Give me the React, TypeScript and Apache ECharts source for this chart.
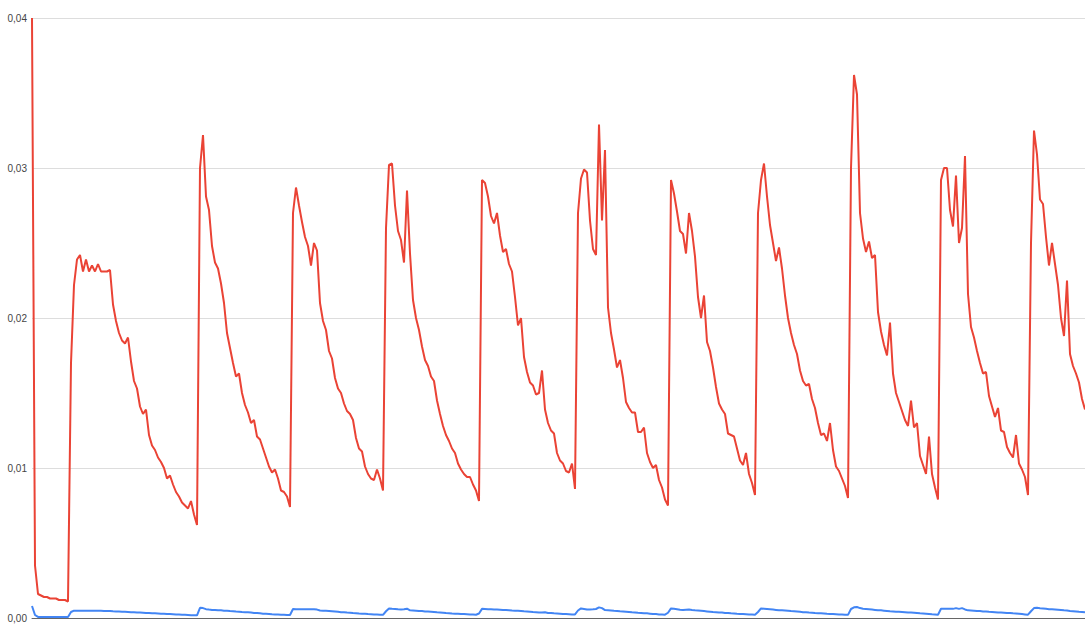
import React, { useEffect, useRef } from "react";
import * as echarts from "echarts";

// Series values, one sample every step of the horizontal axis
const seriesNames = ["Series A", "Series B"];

const blueValues = [
  0.00080, 0.00020, 0.00007, 0.00007, 0.00007, 0.00007, 0.00007, 0.00007, 0.00007, 0.00007,
  0.00007, 0.00007, 0.00007, 0.00040, 0.00049, 0.00049, 0.00049, 0.00049, 0.00048, 0.00048,
  0.00048, 0.00048, 0.00048, 0.00048, 0.00047, 0.00047, 0.00047, 0.00045, 0.00044, 0.00043,
  0.00042, 0.00041, 0.00040, 0.00039, 0.00038, 0.00037, 0.00036, 0.00035, 0.00034, 0.00033,
  0.00032, 0.00031, 0.00030, 0.00029, 0.00028, 0.00027, 0.00026, 0.00025, 0.00024, 0.00023,
  0.00022, 0.00021, 0.00020, 0.00019, 0.00018, 0.00018, 0.00068, 0.00066, 0.00059, 0.00056,
  0.00054, 0.00053, 0.00052, 0.00051, 0.00049, 0.00048, 0.00046, 0.00045, 0.00043, 0.00042,
  0.00040, 0.00039, 0.00038, 0.00036, 0.00034, 0.00033, 0.00031, 0.00029, 0.00028, 0.00027,
  0.00025, 0.00024, 0.00023, 0.00022, 0.00021, 0.00020, 0.00020, 0.00060, 0.00059, 0.00059,
  0.00058, 0.00058, 0.00058, 0.00058, 0.00059, 0.00056, 0.00050, 0.00049, 0.00048, 0.00047,
  0.00045, 0.00043, 0.00041, 0.00039, 0.00038, 0.00036, 0.00035, 0.00033, 0.00032, 0.00030,
  0.00029, 0.00028, 0.00026, 0.00025, 0.00024, 0.00023, 0.00022, 0.00021, 0.00045, 0.00064,
  0.00061, 0.00060, 0.00058, 0.00057, 0.00058, 0.00062, 0.00051, 0.00050, 0.00049, 0.00047,
  0.00046, 0.00044, 0.00043, 0.00042, 0.00040, 0.00038, 0.00037, 0.00035, 0.00033, 0.00032,
  0.00030, 0.00029, 0.00028, 0.00027, 0.00026, 0.00025, 0.00024, 0.00023, 0.00022, 0.00030,
  0.00061, 0.00060, 0.00059, 0.00058, 0.00057, 0.00056, 0.00055, 0.00054, 0.00053, 0.00052,
  0.00050, 0.00049, 0.00048, 0.00047, 0.00045, 0.00044, 0.00042, 0.00040, 0.00039, 0.00037,
  0.00036, 0.00038, 0.00034, 0.00033, 0.00031, 0.00030, 0.00029, 0.00027, 0.00026, 0.00025,
  0.00024, 0.00024, 0.00050, 0.00064, 0.00060, 0.00056, 0.00057, 0.00058, 0.00060, 0.00071,
  0.00066, 0.00053, 0.00052, 0.00050, 0.00048, 0.00047, 0.00045, 0.00044, 0.00042, 0.00040,
  0.00038, 0.00037, 0.00035, 0.00034, 0.00032, 0.00031, 0.00029, 0.00027, 0.00026, 0.00024,
  0.00023, 0.00022, 0.00035, 0.00064, 0.00061, 0.00058, 0.00055, 0.00054, 0.00055, 0.00056,
  0.00053, 0.00051, 0.00050, 0.00048, 0.00046, 0.00044, 0.00042, 0.00040, 0.00039, 0.00037,
  0.00036, 0.00034, 0.00033, 0.00031, 0.00030, 0.00028, 0.00027, 0.00026, 0.00025, 0.00024,
  0.00023, 0.00022, 0.00040, 0.00064, 0.00062, 0.00060, 0.00058, 0.00056, 0.00054, 0.00052,
  0.00051, 0.00050, 0.00048, 0.00046, 0.00045, 0.00043, 0.00041, 0.00039, 0.00038, 0.00036,
  0.00035, 0.00033, 0.00032, 0.00031, 0.00030, 0.00028, 0.00027, 0.00026, 0.00025, 0.00024,
  0.00023, 0.00022, 0.00021, 0.00060, 0.00071, 0.00073, 0.00066, 0.00062, 0.00060, 0.00058,
  0.00056, 0.00054, 0.00052, 0.00051, 0.00049, 0.00047, 0.00045, 0.00044, 0.00042, 0.00041,
  0.00040, 0.00039, 0.00037, 0.00036, 0.00035, 0.00033, 0.00031, 0.00030, 0.00029, 0.00027,
  0.00025, 0.00024, 0.00022, 0.00062, 0.00062, 0.00061, 0.00061, 0.00061, 0.00066, 0.00061,
  0.00066, 0.00057, 0.00051, 0.00050, 0.00049, 0.00047, 0.00046, 0.00044, 0.00043, 0.00041,
  0.00040, 0.00039, 0.00037, 0.00036, 0.00035, 0.00034, 0.00033, 0.00031, 0.00030, 0.00028,
  0.00026, 0.00024, 0.00022, 0.00045, 0.00066, 0.00068, 0.00065, 0.00063, 0.00061, 0.00059,
  0.00058, 0.00057, 0.00055, 0.00053, 0.00051, 0.00050, 0.00047, 0.00045, 0.00043, 0.00041,
  0.00040, 0.00038,
];

const redValues = [
  0.0400, 0.0035, 0.0016, 0.0015, 0.0014, 0.0014, 0.0013, 0.0013, 0.0013, 0.0012,
  0.0012, 0.0012, 0.0011, 0.0170, 0.0222, 0.0239, 0.0242, 0.0231, 0.0239, 0.0231,
  0.0235, 0.0231, 0.0236, 0.0231, 0.0231, 0.0231, 0.0232, 0.0209, 0.0198, 0.0190,
  0.0185, 0.0183, 0.0187, 0.0171, 0.0158, 0.0153, 0.0141, 0.0136, 0.0139, 0.0122,
  0.0115, 0.0112, 0.0107, 0.0104, 0.0100, 0.0093, 0.0095, 0.0089, 0.0084, 0.0081,
  0.0077, 0.0075, 0.0073, 0.0078, 0.0069, 0.0062, 0.0300, 0.0322, 0.0281, 0.0272,
  0.0248, 0.0237, 0.0233, 0.0223, 0.0210, 0.0190, 0.0180, 0.0170, 0.0161, 0.0163,
  0.0150, 0.0142, 0.0137, 0.0130, 0.0132, 0.0121, 0.0119, 0.0113, 0.0107, 0.0101,
  0.0097, 0.0099, 0.0093, 0.0085, 0.0084, 0.0081, 0.0074, 0.0270, 0.0287, 0.0275,
  0.0264, 0.0254, 0.0248, 0.0235, 0.0250, 0.0245, 0.0210, 0.0198, 0.0192, 0.0178,
  0.0173, 0.0160, 0.0153, 0.0150, 0.0143, 0.0138, 0.0136, 0.0132, 0.0120, 0.0113,
  0.0111, 0.0101, 0.0096, 0.0093, 0.0092, 0.0099, 0.0093, 0.0085, 0.0260, 0.0302,
  0.0303, 0.0275, 0.0258, 0.0252, 0.0237, 0.0285, 0.0243, 0.0212, 0.0200, 0.0192,
  0.0181, 0.0172, 0.0168, 0.0161, 0.0158, 0.0145, 0.0136, 0.0128, 0.0122, 0.0118,
  0.0113, 0.0110, 0.0103, 0.0099, 0.0096, 0.0094, 0.0094, 0.0089, 0.0085, 0.0078,
  0.0292, 0.0290, 0.0281, 0.0268, 0.0263, 0.0270, 0.0255, 0.0244, 0.0246, 0.0236,
  0.0231, 0.0214, 0.0195, 0.0200, 0.0174, 0.0164, 0.0157, 0.0155, 0.0149, 0.0150,
  0.0165, 0.0139, 0.0130, 0.0125, 0.0123, 0.0110, 0.0105, 0.0103, 0.0098, 0.0097,
  0.0103, 0.0086, 0.0270, 0.0293, 0.0299, 0.0297, 0.0265, 0.0246, 0.0242, 0.0329,
  0.0265, 0.0312, 0.0207, 0.0190, 0.0179, 0.0167, 0.0172, 0.0160, 0.0144, 0.0140,
  0.0137, 0.0137, 0.0124, 0.0124, 0.0127, 0.0110, 0.0104, 0.0100, 0.0102, 0.0092,
  0.0087, 0.0079, 0.0075, 0.0292, 0.0283, 0.0271, 0.0258, 0.0256, 0.0243, 0.0270,
  0.0258, 0.0241, 0.0214, 0.0200, 0.0215, 0.0184, 0.0178, 0.0167, 0.0154, 0.0143,
  0.0139, 0.0136, 0.0123, 0.0122, 0.0121, 0.0113, 0.0105, 0.0102, 0.0110, 0.0096,
  0.0090, 0.0082, 0.0270, 0.0292, 0.0303, 0.0281, 0.0262, 0.0250, 0.0238, 0.0247,
  0.0233, 0.0215, 0.0200, 0.0190, 0.0182, 0.0176, 0.0165, 0.0158, 0.0155, 0.0156,
  0.0146, 0.0140, 0.0130, 0.0122, 0.0123, 0.0118, 0.0130, 0.0112, 0.0101, 0.0098,
  0.0093, 0.0088, 0.0080, 0.0300, 0.0362, 0.0349, 0.0270, 0.0253, 0.0244, 0.0251,
  0.0240, 0.0242, 0.0204, 0.0191, 0.0182, 0.0175, 0.0197, 0.0163, 0.0150, 0.0144,
  0.0138, 0.0132, 0.0128, 0.0145, 0.0127, 0.0130, 0.0108, 0.0102, 0.0096, 0.0121,
  0.0096, 0.0087, 0.0079, 0.0292, 0.0300, 0.0300, 0.0272, 0.0261, 0.0295, 0.0250,
  0.0260, 0.0308, 0.0216, 0.0194, 0.0187, 0.0178, 0.0170, 0.0163, 0.0164, 0.0148,
  0.0141, 0.0134, 0.0140, 0.0125, 0.0124, 0.0114, 0.0110, 0.0107, 0.0122, 0.0103,
  0.0099, 0.0094, 0.0082, 0.0250, 0.0325, 0.0309, 0.0279, 0.0276, 0.0254, 0.0235,
  0.0250, 0.0236, 0.0222, 0.0200, 0.0188, 0.0225, 0.0176, 0.0168, 0.0163, 0.0157,
  0.0146, 0.0139,
];

// Sample numbers for the category axis
const samples = redValues.map((_, i) => String(i + 1));

// Y axis range and tick step
const yMin = 0;
const yMax = 0.04;
const yStep = 0.01;

export default function App() {
  const ref = useRef<HTMLDivElement>(null);

  useEffect(() => {
    if (!ref.current) return;
    const chart = echarts.init(ref.current, null, { renderer: "svg" });
    chart.setOption({
      animation: false,
      backgroundColor: "#ffffff",
      grid: { left: 32, right: 0, top: 18, bottom: 12, containLabel: false },
      xAxis: {
        type: "category",
        data: samples,
        boundaryGap: false,
        axisLine: { show: true, lineStyle: { color: "#666666", width: 1 } },
        axisTick: { show: false },
        axisLabel: { show: false },
        splitLine: { show: false },
      },
      yAxis: {
        type: "value",
        min: yMin,
        max: yMax,
        interval: yStep,
        axisLine: { show: false },
        axisTick: { show: false },
        axisLabel: {
          color: "#444444",
          fontSize: 10,
          fontFamily: "Liberation Sans, Arial, sans-serif",
          margin: 5,
          formatter: (v: number) => v.toFixed(2).replace(".", ","),
        },
        splitLine: { show: true, lineStyle: { color: "#dddddd", width: 1 } },
      },
      series: [
        {
          name: seriesNames[0],
          type: "line",
          data: blueValues,
          showSymbol: false,
          symbol: "none",
          lineStyle: { color: "#4285F4", width: 2 },
          itemStyle: { color: "#4285F4" },
        },
        {
          name: seriesNames[1],
          type: "line",
          data: redValues,
          showSymbol: false,
          symbol: "none",
          lineStyle: { color: "#EA4335", width: 2 },
          itemStyle: { color: "#EA4335" },
        },
      ],
    });
    return () => chart.dispose();
  }, []);

  return (
    <div
      ref={ref}
      style={{ position: "fixed", left: 0, top: 0, width: 1085, height: 630 }}
    />
  );
}
